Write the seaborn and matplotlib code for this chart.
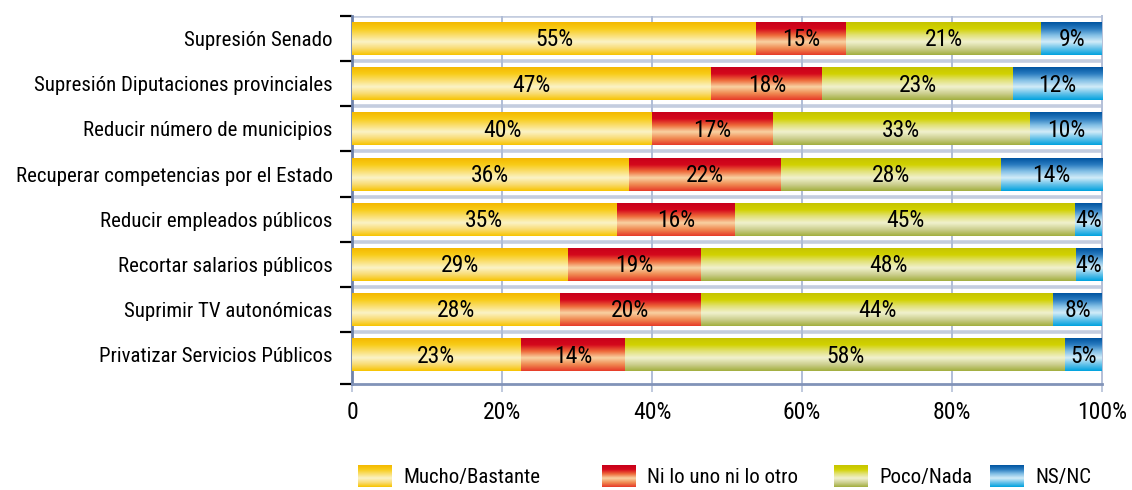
import numpy as np
import pandas as pd
import seaborn as sns
import matplotlib.pyplot as plt
from matplotlib import font_manager
from matplotlib.colors import LinearSegmentedColormap

categories = ['Supresión Senado',
              'Supresión Diputaciones provinciales',
              'Reducir número de municipios',
              'Recuperar competencias por el Estado',
              'Reducir empleados públicos',
              'Recortar salarios públicos',
              'Suprimir TV autonómicas',
              'Privatizar Servicios Públicos']
series = ['Mucho/Bastante', 'Ni lo uno ni lo otro', 'Poco/Nada', 'NS/NC']

# segment widths as drawn (%)
mucho = [53.9, 47.9, 40.0, 36.9, 35.3, 28.8, 27.7, 22.5]
ni_uno = [12.0, 14.8, 16.1, 20.3, 15.8, 17.7, 18.8, 13.9]
poco = [26.0, 25.4, 34.3, 29.3, 45.3, 50.0, 47.0, 58.7]
nsnc = [8.1, 11.9, 9.6, 13.5, 3.6, 3.5, 6.5, 4.9]

# printed labels (%)
lbl_mucho = [55, 47, 40, 36, 35, 29, 28, 23]
lbl_ni_uno = [15, 18, 17, 22, 16, 19, 20, 14]
lbl_poco = [21, 23, 33, 28, 45, 48, 44, 58]
lbl_nsnc = [9, 12, 10, 14, 4, 4, 8, 5]

x_ticks = [0, 20, 40, 60, 80, 100]
x_ticklabels = ['0', '20%', '40%', '60%', '80%', '100%']

# vertical gradients, top -> bottom
gradients = {
    'Mucho/Bastante': ['#F4B800', '#F8CC18', '#FADF70', '#FBF3C6', '#F9DC74', '#F7C400'],
    'Ni lo uno ni lo otro': ['#C8001A', '#D4081C', '#EE6A3A', '#F9D2A2', '#F08A52', '#E63A28'],
    'Poco/Nada': ['#C6C400', '#D2D200', '#E2E27A', '#F1F1CE', '#CDD090', '#A2AE3E'],
    'NS/NC': ['#0054A0', '#2A7CC0', '#84C0E6', '#D2ECF8', '#66C2EA', '#00A2DE'],
}
cmaps = {k: LinearSegmentedColormap.from_list(k, v) for k, v in gradients.items()}
base_colors = {k: v[0] for k, v in gradients.items()}

widths = [mucho, ni_uno, poco, nsnc]
labels = [lbl_mucho, lbl_ni_uno, lbl_poco, lbl_nsnc]

rows = []
for name, w, lb in zip(series, widths, labels):
    for cat, v, l in zip(categories, w, lb):
        rows.append({'category': cat, 'series': name, 'width': v, 'label': l})
df = pd.DataFrame(rows)
df['left'] = df.groupby('category', sort=False)['width'].cumsum() - df['width']
df['right'] = df['left'] + df['width']

sns.set_style('white')

# look for a narrow face, the original uses a condensed grotesque
entries = font_manager.fontManager.ttflist
narrow = None
for cand in ['Liberation Sans Narrow', 'Roboto Condensed', 'Open Sans Condensed',
             'Noto Sans Condensed', 'DejaVu Sans Condensed']:
    if any(f.name == cand for f in entries):
        narrow = cand
        break
stretch = 'normal'
if narrow is None:
    for f in entries:
        if f.name in ('DejaVu Sans', 'Noto Sans', 'Roboto', 'Open Sans') and \
                str(f.stretch) in ('condensed', 'semi-condensed', '75', '87.5') and \
                f.weight in (400, 'normal', 'regular'):
            narrow = f.name
            stretch = 'condensed'
            break
if narrow is None:
    narrow = 'DejaVu Sans'
    scale = 0.82
else:
    scale = 1.0
plt.rcParams['font.family'] = [narrow, 'DejaVu Sans']
plt.rcParams['font.stretch'] = stretch

fs_bar = 17 * scale
fs_cat = 15 * scale
fs_tick = 17 * scale
fs_leg = 15 * scale

fig = plt.figure(figsize=(11.32, 4.9), dpi=100)
ax = fig.add_axes([352 / 1132, 106 / 490, 750 / 1132, 368 / 490])

bar_h = 0.73
grad = np.linspace(0, 1, 128)

for name in series:
    sub = df[df['series'] == name]
    before = len(ax.patches)
    sns.barplot(data=sub, x='right', y='category', order=categories,
                orient='h', color=base_colors[name], width=bar_h,
                saturation=1, errorbar=None, ax=ax, zorder=2)
    new_patches = ax.patches[before:]
    for patch, (_, r) in zip(new_patches, sub.iterrows()):
        patch.set_x(r['left'])
        patch.set_width(r['width'])
        patch.set_linewidth(0)
        y0 = patch.get_y()
        h = patch.get_height()
        img = cmaps[name](grad)[:, None, :]
        ax.imshow(img, extent=(r['left'], r['right'], y0 + h, y0),
                  origin='upper', aspect='auto', interpolation='bilinear',
                  zorder=3)
        ax.text(r['left'] + r['width'] / 2, y0 + h / 2 + 0.03,
                '{}%'.format(r['label']), ha='center', va='center',
                fontsize=fs_bar, color='black', zorder=4)

n = len(categories)
bounds = [i - 0.5 for i in range(n)] + [n - 1 + 0.65]
ax.set_xlim(0, 100)
ax.set_ylim(bounds[-1], -0.5)

ax.set_xticks(x_ticks)
ax.set_xticklabels(x_ticklabels, fontsize=fs_tick, color='black')
ax.set_yticks(range(n))
ax.set_yticklabels(categories, fontsize=fs_cat, color='black')
ax.set_yticks(bounds, minor=True)
ax.set_xlabel('')
ax.set_ylabel('')

ax.tick_params(axis='y', which='major', length=0, pad=14)
ax.tick_params(axis='y', which='minor', length=9, width=1.6, color='black',
               direction='out', left=True)
ax.tick_params(axis='x', which='major', length=6, width=1.2,
               color='#B4C0D8', pad=6, bottom=True)

for b in bounds[:-1]:
    ax.axhline(b, color='#C4CDDF', lw=2.6, zorder=1)
for xv in x_ticks[1:-1]:
    ax.axvline(xv, color='#B0BDD6', lw=1.4, zorder=1)

ax.spines['left'].set_color('#6E82AA')
ax.spines['left'].set_linewidth(2)
ax.spines['bottom'].set_color('#8193B8')
ax.spines['bottom'].set_linewidth(2)
ax.spines['right'].set_color('#B4C0D8')
ax.spines['right'].set_linewidth(1.4)
ax.spines['top'].set_visible(False)

# legend with gradient swatches
leg_x = [358, 602, 834, 990]
for name, lx in zip(series, leg_x):
    lax = fig.add_axes([lx / 1132, 3 / 490, 34 / 1132, 22 / 490])
    lax.imshow(cmaps[name](grad)[:, None, :], aspect='auto',
               interpolation='bilinear')
    lax.set_axis_off()
    fig.text((lx + 45) / 1132, 13 / 490, name, ha='left', va='center',
             fontsize=fs_leg, color='black')

fig.savefig('out.png', dpi=100)
